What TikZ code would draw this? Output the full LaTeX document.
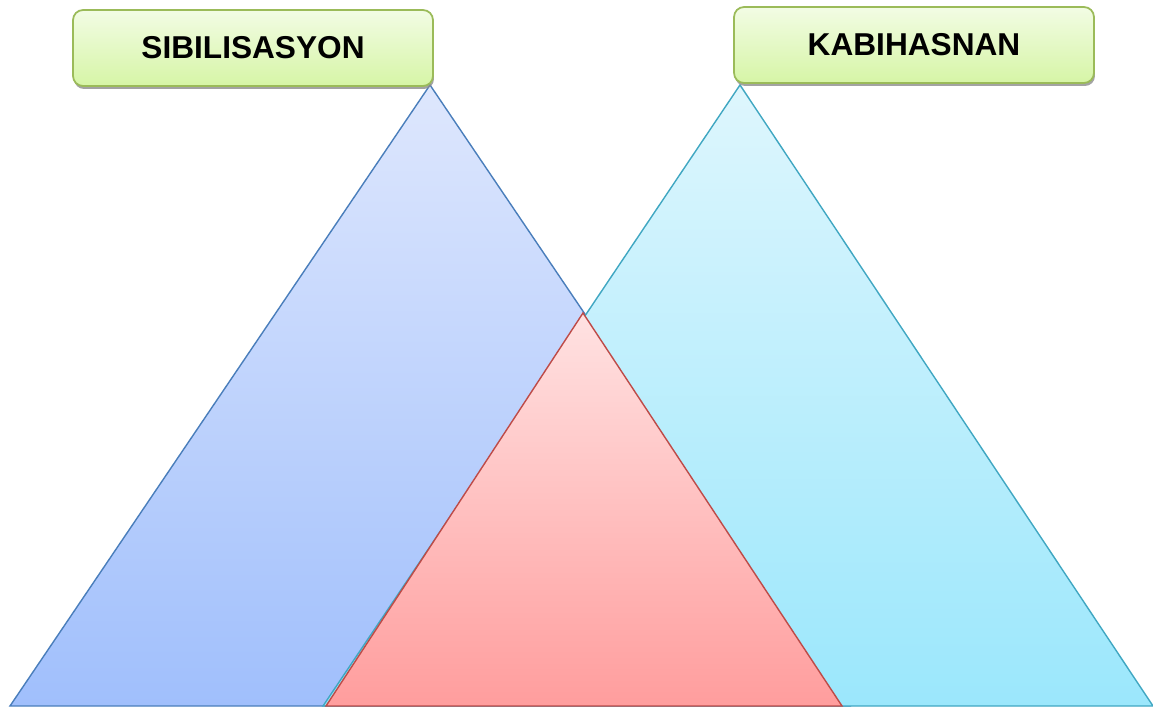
\documentclass[tikz,border=0pt]{standalone}
\usepackage{fontspec}
\setmainfont{Liberation Sans}
\usepackage{xcolor}
\usetikzlibrary{shadows}

\definecolor{bluetop}{RGB}{222,231,253}
\definecolor{bluebot}{RGB}{160,191,252}
\definecolor{blueline}{RGB}{74,126,187}
\definecolor{cyantop}{RGB}{222,246,253}
\definecolor{cyanbot}{RGB}{155,231,252}
\definecolor{cyanline}{RGB}{64,167,194}
\definecolor{redtop}{RGB}{255,226,226}
\definecolor{redbot}{RGB}{255,157,157}
\definecolor{redline}{RGB}{190,75,72}
\definecolor{greentop}{RGB}{242,252,228}
\definecolor{greenbot}{RGB}{214,245,166}
\definecolor{greenline}{RGB}{155,187,89}

\tikzset{
    titlebox/.style={rectangle, rounded corners=0.2cm, draw=greenline, line width=1pt,
        top color=greentop, bottom color=greenbot,
        minimum width=7.2cm, minimum height=1.52cm, inner sep=0pt,
        font=\fontsize{18}{20}\selectfont\bfseries,
        drop shadow={shadow xshift=0.02cm, shadow yshift=-0.06cm, fill=black!45, opacity=0.8}},
    tri/.style={line width=0.8pt, line join=miter}
}

\begin{document}
\begin{tikzpicture}[x=0.02cm, y=-0.02cm]
        \useasboundingbox (0, 0) rectangle (1153, 709);

        \coordinate (bl) at (10, 706);
        \coordinate (bt) at (430, 85);
        \coordinate (br) at (850, 706);
        \coordinate (cl) at (323, 706);
        \coordinate (ct) at (740, 85);
        \coordinate (cr) at (1153, 706);
        \coordinate (rl) at (326, 706);
        \coordinate (rt) at (583, 313);
        \coordinate (rr) at (842, 706);

        \draw[tri, draw=blueline, top color=bluetop, bottom color=bluebot]
            (bl) -- (bt) -- (br) -- cycle;
        \draw[tri, draw=cyanline, top color=cyantop, bottom color=cyanbot]
            (cl) -- (ct) -- (cr) -- cycle;
        \draw[tri, draw=redline, top color=redtop, bottom color=redbot]
            (rl) -- (rt) -- (rr) -- cycle;

        \node[titlebox] (civ) at (253, 48) {SIBILISASYON};
        \node[titlebox] (cap) at (914, 45) {KABIHASNAN};
\end{tikzpicture}
\end{document}
